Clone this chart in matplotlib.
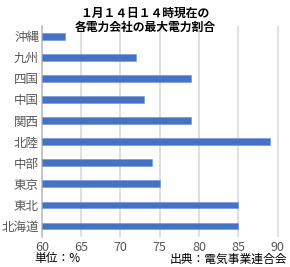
import matplotlib
matplotlib.use("Agg")
import matplotlib.pyplot as plt

plt.rcParams["font.family"] = ["Noto Sans CJK JP", "DejaVu Sans"]

# 電力会社（上から順）と最大電力割合 (%)
companies = ["沖縄", "九州", "四国", "中国", "関西", "北陸", "中部", "東京", "東北", "北海道"]
ratios = [63, 72, 79, 73, 79, 89, 74, 75, 85, 85]
x_ticks = [60, 65, 70, 75, 80, 85, 90]

fig = plt.figure(figsize=(2.9, 2.67), dpi=100)
ax = fig.add_axes([0.144, 0.114, 0.822, 0.79])

y_pos = list(range(len(companies)))[::-1]
ax.barh(y_pos, [r - 60 for r in ratios], left=60, height=0.32,
        color="#4472C4", edgecolor="#6f93d6", linewidth=0.4, zorder=3)

ax.set_xlim(60, 90.3)
ax.set_ylim(-0.5, len(companies) - 0.5)
ax.set_xticks(x_ticks)
ax.set_xticklabels([str(t) for t in x_ticks])
ax.set_yticks(y_pos)
ax.set_yticklabels(companies)
ax.tick_params(axis="both", length=0, labelsize=9, colors="#595959", pad=3)
ax.tick_params(axis="y", pad=2)
ax.grid(axis="x", color="#d9d9d9", linewidth=1.2, zorder=0)
for side in ["top", "right", "bottom"]:
    ax.spines[side].set_visible(False)
ax.spines["left"].set_color("#bfbfbf")
ax.spines["left"].set_linewidth(1.2)

fig.text(0.5, 0.975, "１月１４日１４時現在の\n各電力会社の最大電力割合",
         ha="center", va="top", fontsize=8.5, fontweight="bold",
         linespacing=1.1)
fig.text(0.12, 0.03, "単位：%", ha="left", va="center", fontsize=8.5)
fig.text(0.99, 0.03, "出典：電気事業連合会", ha="right", va="center", fontsize=8.5)

fig.savefig("out.png", dpi=100)
